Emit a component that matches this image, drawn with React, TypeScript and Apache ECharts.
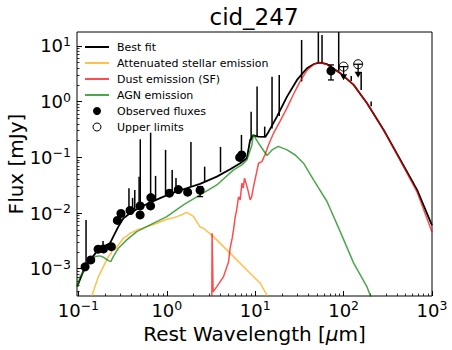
import React, { useEffect, useRef } from 'react';
import * as echarts from 'echarts';

// ---- Data (wavelength in micron, flux in mJy) ----
const bestFitWave = [0.097, 0.119, 0.138, 0.161, 0.191, 0.228, 0.248, 0.283, 0.323, 0.384, 0.499, 0.647, 0.839, 1.09, 1.54, 2.38, 3.68, 5.21, 6.76, 8.05, 8.77, 9.49, 10.8, 13.0, 14.2, 17.6, 22.9, 29.7, 38.5, 45.7, 52.1, 58, 64.9, 91.8, 130, 184, 284, 439, 678, 1000];
const bestFitFlux = [4.8e-4, 1.09e-3, 1.48e-3, 2.03e-3, 2.49e-3, 2.87e-3, 3.77e-3, 5.7e-3, 8.07e-3, 9.91e-3, 1.27e-2, 1.54e-2, 1.85e-2, 2.2e-2, 2.67e-2, 3.33e-2, 4.5e-2, 6.11e-2, 7.83e-2, 9.64e-2, 0.205, 0.247, 0.235, 0.232, 0.289, 0.538, 1.23, 2.45, 3.98, 4.69, 5.01, 4.89, 4.69, 3.24, 2.0, 0.936, 0.31, 0.0898, 0.026, 6.0e-3];

const spikeWave = [0.122, 0.19, 0.373, 0.41, 0.434, 0.486, 0.501, 0.656, 0.746, 0.968, 1.15, 1.27, 1.875, 2.68, 4.05, 6.99, 8.99, 10.5, 12.8, 15.5, 18.7, 33.5, 51.8, 57.0, 88.0, 122, 158, 205];
const spikeBase = [1.22e-3, 2.49e-3, 9.9e-3, 1.07e-2, 1.15e-2, 1.25e-2, 1.27e-2, 1.55e-2, 1.7e-2, 2.15e-2, 2.3e-2, 2.45e-2, 3.0e-2, 3.6e-2, 5.4e-2, 8.6e-2, 0.2, 0.24, 0.233, 0.33, 0.55, 2.3, 4.8, 5.0, 3.5, 2.35, 1.62, 0.83];
const spikePeak = [7.5e-3, 3.16e-3, 2.79e-2, 1.87e-2, 2.6e-2, 4.5e-2, 0.211, 0.277, 4.64e-2, 0.136, 5.94e-2, 4.27e-2, 0.189, 6.8e-2, 0.154, 0.252, 0.66, 1.86, 0.356, 2.81, 3.01, 12.8, 30, 15.7, 30, 2.89, 3.4, 1.0];

const stellarWave = [0.142, 0.154, 0.168, 0.184, 0.2, 0.218, 0.236, 0.245, 0.255, 0.283, 0.323, 0.35, 0.384, 0.42, 0.457, 0.52, 0.594, 0.68, 0.771, 0.88, 1.0, 1.15, 1.3, 1.5, 1.68, 2.0, 2.26, 2.38, 2.6, 3.37, 4.38, 5.68, 8.05, 11.4, 13.7];
const stellarFlux = [3.25e-4, 4.78e-4, 7.21e-4, 9.51e-4, 1.26e-3, 1.65e-3, 1.9e-3, 2.6e-3, 2.15e-3, 2.67e-3, 3.53e-3, 3.8e-3, 4.34e-3, 4.6e-3, 4.98e-3, 5.25e-3, 5.7e-3, 6.1e-3, 6.56e-3, 7.1e-3, 7.74e-3, 8.1e-3, 8.61e-3, 9.4e-3, 1.03e-2, 8.69e-3, 6.37e-3, 5.62e-3, 5.33e-3, 3.77e-3, 2.49e-3, 1.65e-3, 9.51e-4, 5.5e-4, 3.25e-4];

const dustWave = [3.23, 3.25, 3.34, 3.68, 4.38, 4.99, 5.21, 5.5, 5.68, 5.94, 6.17, 6.47, 6.76, 7.07, 7.31, 7.57, 7.91, 8.26, 8.77, 9.12, 9.57, 10.4, 10.9, 11.9, 13.0, 14.2, 16.1, 19.2, 22.9, 27.2, 32.4, 38.5, 45.7, 52.1, 64.9, 91.8, 130, 184, 284, 439, 678, 1000];
const dustFlux = [3.25e-4, 4.34e-3, 3.83e-4, 4.78e-4, 7.21e-4, 1.32e-3, 2.36e-3, 3.57e-3, 4.98e-3, 8.51e-3, 1.14e-2, 1.95e-2, 1.72e-2, 3.43e-2, 2.82e-2, 4.22e-2, 3.33e-2, 2.6e-2, 1.72e-2, 1.95e-2, 2.98e-2, 5.47e-2, 7.83e-2, 8.37e-2, 0.115, 0.17, 0.27, 0.45, 0.771, 1.37, 2.35, 3.63, 4.66, 5.01, 4.69, 3.24, 2.0, 0.936, 0.31, 0.0861, 0.0239, 4.58e-3];

const agnWave = [0.0982, 0.104, 0.119, 0.135, 0.154, 0.176, 0.191, 0.218, 0.232, 0.248, 0.283, 0.352, 0.457, 0.647, 1.0, 1.54, 2.38, 3.68, 5.68, 7.07, 8.05, 9.18, 9.49, 10.9, 13.6, 15.5, 18.2, 22.9, 28.4, 35.2, 45.7, 64.9, 91.8, 130, 184, 210];
const agnFlux = [4.78e-4, 7.21e-4, 9.51e-4, 1.34e-3, 1.65e-3, 1.7e-3, 1.61e-3, 1.4e-3, 1.34e-3, 1.65e-3, 2.33e-3, 3.29e-3, 4.63e-3, 6.11e-3, 8.61e-3, 1.4e-2, 2.11e-2, 3.19e-2, 5.94e-2, 7.31e-2, 8.98e-2, 0.167, 0.258, 0.179, 0.108, 0.136, 0.157, 0.136, 0.11, 7.83e-2, 3.93e-2, 1.61e-2, 4.58e-3, 1.26e-3, 4.71e-4, 2.75e-4];

const obsWave = [0.119, 0.138, 0.167, 0.192, 0.236, 0.276, 0.303, 0.384, 0.499, 0.499, 0.655, 0.66, 1.07, 1.35, 1.72, 2.38, 6.67, 7.03, 72];
const obsFlux = [1.08e-3, 1.44e-3, 2.24e-3, 2.27e-3, 2.49e-3, 7.36e-3, 9.84e-3, 1.11e-2, 9.24e-3, 1.34e-2, 1.34e-2, 1.89e-2, 2.27e-2, 2.63e-2, 2.37e-2, 2.57e-2, 0.0996, 0.11, 3.56];
const obsErrWave = [2.38, 72];
const obsErrLow = [1.97e-2, 2.45];
const obsErrHigh = [2.98e-2, 4.56];

const ulWave = [100, 146];
const ulFlux = [4.25, 4.69];
const ulArrowTo = [2.52, 2.81];

const xMajorTicks = [-1, 0, 1, 2, 3];
const yMajorTicks = [-3, -2, -1, 0, 1];

const FONT = 'DejaVu Sans';
const L = Math.log10;

function minorTicks(lo: number, hi: number) {
  const out: number[] = [];
  for (let n = Math.floor(lo); n <= Math.ceil(hi); n++) {
    for (let k = 2; k <= 9; k++) {
      const v = n + Math.log10(k);
      if (v > lo && v < hi) out.push(v);
    }
  }
  return out;
}

const pair = (w: number[], f: number[]) => w.map((x, i) => [L(x), L(f[i])]);
const supLabel = (v: number) => `{b|10}{s|${v < 0 ? '\u2212' + Math.abs(v) : v}}`;
const rich = {
  b: { fontSize: 18, fontFamily: FONT, color: '#000', lineHeight: 22, verticalAlign: 'middle' },
  s: { fontSize: 12.5, fontFamily: FONT, color: '#000', lineHeight: 13, verticalAlign: 'top' },
};

const XMIN = -1.016, XMAX = 3.0, YMIN = -3.49, YMAX = 1.25;
const lineIcon = 'path://M0,0H24V2H0Z';

export default function App() {
  const ref = useRef<HTMLDivElement>(null);
  useEffect(() => {
    const chart = echarts.init(ref.current!, null, { renderer: 'svg' });
    const option: any = {
      animation: false,
      backgroundColor: '#fff',
      textStyle: { fontFamily: FONT },
      grid: {
        left: 77, right: 20, top: 32, bottom: 54, show: true, borderColor: '#000', borderWidth: 1,
        backgroundColor: 'transparent', containLabel: false, outerBoundsMode: 'none',
      },
      graphic: [
        { type: 'text', x: 254, y: 5, style: { text: 'cid_247', font: `23px "${FONT}"`, fill: '#000', textAlign: 'center', textVerticalAlign: 'top' } },
      ],
      legend: {
        left: 85, top: 41.5, padding: 0, orient: 'vertical', itemWidth: 24, itemHeight: 8, itemGap: 5, selectedMode: false,
        textStyle: { fontSize: 11, fontFamily: FONT, color: '#000', padding: [0, 0, 0, 3] },
        data: [
          { name: 'Best fit', icon: lineIcon },
          { name: 'Attenuated stellar emission', icon: lineIcon },
          { name: 'Dust emission (SF)', icon: lineIcon },
          { name: 'AGN emission', icon: lineIcon },
          { name: 'Observed fluxes', icon: 'circle', itemStyle: { color: '#000', opacity: 1 } },
          { name: 'Upper limits', icon: 'circle', itemStyle: { color: '#fff', borderColor: '#000', borderWidth: 1, opacity: 1 } },
        ],
      },
      xAxis: [
        {
          type: 'value', min: XMIN, max: XMAX, position: 'bottom',
          name: 'Rest Wavelength [{i|\u03bc}m]', nameLocation: 'middle', nameGap: 10,
          nameTextStyle: { fontSize: 20, fontFamily: FONT, color: '#000', rich: { i: { fontSize: 20, fontStyle: 'italic', fontFamily: FONT, color: '#000' } } },
          axisLine: { show: false, onZero: false },
          splitLine: { show: false },
          axisTick: { show: true, inside: true, length: 5, customValues: xMajorTicks, lineStyle: { color: '#000', width: 1 } },
          axisLabel: { show: true, margin: 3, customValues: xMajorTicks, formatter: (v: number) => supLabel(v), rich },
        },
        {
          type: 'value', min: XMIN, max: XMAX, position: 'bottom',
          axisLine: { show: false, onZero: false }, splitLine: { show: false }, axisLabel: { show: false },
          axisTick: { show: true, inside: true, length: 2.5, customValues: minorTicks(XMIN, XMAX), lineStyle: { color: '#000', width: 0.8 } },
        },
      ],
      yAxis: [
        {
          type: 'value', min: YMIN, max: YMAX, position: 'left',
          name: 'Flux [mJy]', nameLocation: 'middle', nameRotate: 90, nameGap: 51, nameMoveOverlap: false,
          nameTextStyle: { fontSize: 20, fontFamily: FONT, color: '#000' },
          axisLine: { show: false, onZero: false },
          splitLine: { show: false },
          axisTick: { show: true, inside: true, length: 5, customValues: yMajorTicks, lineStyle: { color: '#000', width: 1 } },
          axisLabel: { show: true, margin: 6, customValues: yMajorTicks, formatter: (v: number) => supLabel(v), rich },
        },
        {
          type: 'value', min: YMIN, max: YMAX, position: 'left',
          axisLine: { show: false, onZero: false }, splitLine: { show: false }, axisLabel: { show: false },
          axisTick: { show: true, inside: true, length: 2.5, customValues: minorTicks(YMIN, YMAX), lineStyle: { color: '#000', width: 0.8 } },
        },
      ],
      series: [
        {
          name: 'Best fit', type: 'line', data: pair(bestFitWave, bestFitFlux), symbol: 'none', color: '#000',
          lineStyle: { width: 1.8, color: '#000' }, z: 2, clip: true,
        },
        {
          name: 'Best fit lines', type: 'custom', clip: true, z: 2,
          data: spikeWave.map((w, i) => [L(w), L(spikeBase[i]), L(spikePeak[i])]),
          renderItem: (_p: any, api: any) => {
            const a = api.coord([api.value(0), api.value(1)]);
            const b = api.coord([api.value(0), api.value(2)]);
            return { type: 'line', shape: { x1: a[0], y1: a[1], x2: b[0], y2: b[1] }, style: { stroke: '#000', lineWidth: 1.5 } };
          },
        },
        {
          name: 'Attenuated stellar emission', type: 'line', data: pair(stellarWave, stellarFlux), symbol: 'none',
          color: 'rgba(255,165,0,0.7)', lineStyle: { width: 1.5, color: 'rgba(255,165,0,0.7)' }, z: 3, clip: true,
        },
        {
          name: 'Dust emission (SF)', type: 'line', data: pair(dustWave, dustFlux), symbol: 'none',
          color: 'rgba(255,0,0,0.7)', lineStyle: { width: 1.5, color: 'rgba(255,0,0,0.7)' }, z: 3, clip: true,
        },
        {
          name: 'AGN emission', type: 'line', data: pair(agnWave, agnFlux), symbol: 'none',
          color: 'rgba(0,128,0,0.7)', lineStyle: { width: 1.5, color: 'rgba(0,128,0,0.7)' }, z: 3, clip: true,
        },
        {
          name: 'Observed fluxes', type: 'scatter', data: pair(obsWave, obsFlux), symbol: 'circle', symbolSize: 9,
          itemStyle: { color: '#000', opacity: 1 }, z: 5,
        },
        {
          name: 'Observed errors', type: 'custom', z: 5,
          data: obsErrWave.map((w, i) => [L(w), L(obsErrLow[i]), L(obsErrHigh[i])]),
          renderItem: (_p: any, api: any) => {
            const a = api.coord([api.value(0), api.value(1)]);
            const b = api.coord([api.value(0), api.value(2)]);
            const st = { stroke: '#000', lineWidth: 1.3 };
            return {
              type: 'group', children: [
                { type: 'line', shape: { x1: a[0], y1: a[1], x2: b[0], y2: b[1] }, style: st },
                { type: 'line', shape: { x1: a[0] - 3, y1: a[1], x2: a[0] + 3, y2: a[1] }, style: st },
                { type: 'line', shape: { x1: b[0] - 3, y1: b[1], x2: b[0] + 3, y2: b[1] }, style: st },
              ],
            };
          },
        },
        {
          name: 'Upper limits', type: 'custom', z: 5, itemStyle: { color: '#000' },
          data: ulWave.map((w, i) => [L(w), L(ulFlux[i]), L(ulArrowTo[i])]),
          renderItem: (_p: any, api: any) => {
            const c = api.coord([api.value(0), api.value(1)]);
            const e = api.coord([api.value(0), api.value(2)]);
            const st = { stroke: '#000', lineWidth: 1.3 };
            return {
              type: 'group', children: [
                { type: 'line', shape: { x1: c[0], y1: c[1], x2: e[0], y2: e[1] - 4 }, style: st },
                { type: 'line', shape: { x1: c[0] - 4.5, y1: c[1], x2: c[0] + 4.5, y2: c[1] }, style: st },
                { type: 'polygon', shape: { points: [[e[0] - 3.5, e[1] - 5], [e[0] + 3.5, e[1] - 5], [e[0], e[1] + 1]] }, style: { fill: '#000' } },
                { type: 'circle', shape: { cx: c[0], cy: c[1], r: 4.5 }, style: { fill: 'none', stroke: '#000', lineWidth: 1 } },
              ],
            };
          },
        },
      ],
    };
    chart.setOption(option);
    return () => chart.dispose();
  }, []);
  return <div ref={ref} style={{ position: 'fixed', left: 0, top: 0, width: 452, height: 350, background: '#fff' }} />;
}
